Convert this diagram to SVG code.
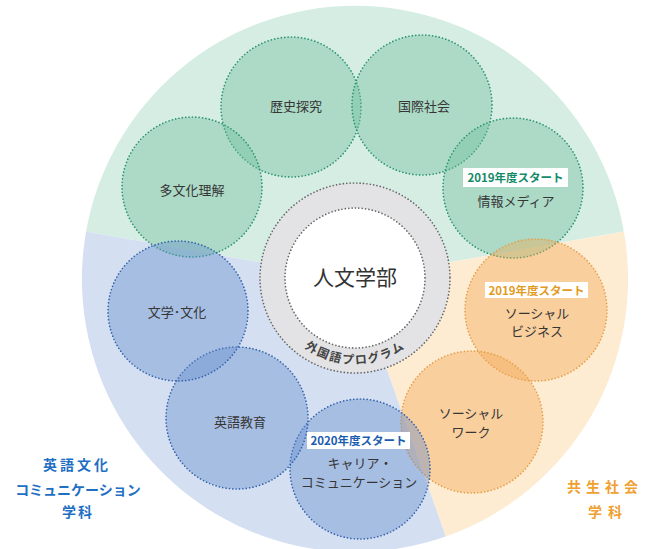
<svg xmlns="http://www.w3.org/2000/svg" width="648" height="549" viewBox="0 0 648 549">
<style>
text{font-family:"Noto Sans CJK JP","Liberation Sans",sans-serif;}
.lbl{font-size:13px;fill:#363636;text-anchor:middle;}
.g{fill:#6fbf9c;fill-opacity:0.4;stroke:#2a9470;}
.b{fill:#648bcd;fill-opacity:0.4;stroke:#3464ad;}
.o{fill:#f3a54f;fill-opacity:0.4;stroke:#e5a04a;}
.g,.b,.o{stroke-width:1.7;stroke-dasharray:0 3.4;stroke-linecap:round;}
.badge{fill:#fff;}
.bt{font-size:11.5px;font-weight:bold;text-anchor:middle;}
.dot{fill:none;stroke:#666;stroke-width:1.7;stroke-dasharray:0 3.4;stroke-linecap:round;}
.dept{font-size:14px;font-weight:bold;text-anchor:middle;}
</style>
<defs>
<path id="arc" d="M294.2,338.8 A86,86 0 0 0 415.8,338.8"/>
</defs>
<g id="background">
<path d="M355,279 L86.1,231.6 A273,273 0 0 1 623.9,231.6 Z" fill="#d5ede3"/>
<path d="M355,279 L623.9,231.6 A273,273 0 0 1 445.7,536.5 Z" fill="#fdebd2"/>
<path d="M355,279 L445.7,536.5 A273,273 0 0 1 86.1,231.6 Z" fill="#d4dff2"/>
</g>
<g id="connectors"/>
<g id="node-rekishi"><circle class="g" cx="291" cy="107" r="70"/><text class="lbl" x="296" y="111">歴史探究</text></g>
<g id="node-kokusai"><circle class="g" cx="422" cy="105" r="70"/><text class="lbl" x="424" y="111">国際社会</text></g>
<g id="node-tabunka"><circle class="g" cx="192" cy="187" r="70"/><text class="lbl" x="192" y="195">多文化理解</text></g>
<g id="node-joho"><circle class="g" cx="513" cy="188" r="70"/>
<rect class="badge" x="463" y="168" width="105" height="19"/>
<text class="bt" x="515.5" y="182" fill="#138a68">2019年度スタート</text>
<text class="lbl" x="516" y="206">情報メディア</text></g>
<g id="node-business"><circle class="o" cx="536" cy="310" r="71"/>
<rect class="badge" x="485" y="282" width="103" height="16"/>
<text class="bt" x="536.5" y="294.5" fill="#e39a22">2019年度スタート</text>
<text class="lbl" x="537" y="318">ソーシャル</text><text class="lbl" x="537" y="336">ビジネス</text></g>
<g id="node-work"><circle class="o" cx="472" cy="422" r="71"/>
<text class="lbl" x="471" y="418">ソーシャル</text><text class="lbl" x="471" y="437">ワーク</text></g>
<g id="node-career"><circle class="b" cx="360" cy="469" r="70"/>
<rect class="badge" x="307" y="432" width="103" height="17"/>
<text class="bt" x="358.5" y="445" fill="#1a5db0">2020年度スタート</text>
<text class="lbl" x="360" y="468">キャリア・</text><text class="lbl" x="359" y="487">コミュニケーション</text></g>
<g id="node-eigo"><circle class="b" cx="237" cy="418" r="71"/><text class="lbl" x="240" y="427">英語教育</text></g>
<g id="node-bungaku"><circle class="b" cx="178" cy="311" r="70"/><text class="lbl" x="177" y="317">文学･文化</text></g>
<g id="node-center">
<circle cx="355" cy="278" r="95" fill="#e3e3e6"/>
<circle class="dot" cx="355" cy="278" r="95"/>
<circle cx="355" cy="278" r="70" fill="#fff"/>
<circle class="dot" cx="355" cy="278" r="70"/>
<text x="355" y="285" font-size="21" fill="#333" text-anchor="middle">人文学部</text>
<text font-size="12" font-weight="bold" fill="#444" letter-spacing="1.5"><textPath href="#arc" startOffset="50%" text-anchor="middle">外国語プログラム</textPath></text>
</g>
<g id="dept-eigo" fill="#1f6fc4">
<text class="dept" x="77" y="470" letter-spacing="3">英語文化</text>
<text class="dept" x="78" y="495">コミュニケーション</text>
<text class="dept" x="78" y="517" letter-spacing="2">学科</text>
</g>
<g id="dept-kyosei" fill="#f0a030">
<text class="dept" x="605" y="492" letter-spacing="5">共生社会</text>
<text class="dept" x="608" y="517" letter-spacing="6">学科</text>
</g>
</svg>
